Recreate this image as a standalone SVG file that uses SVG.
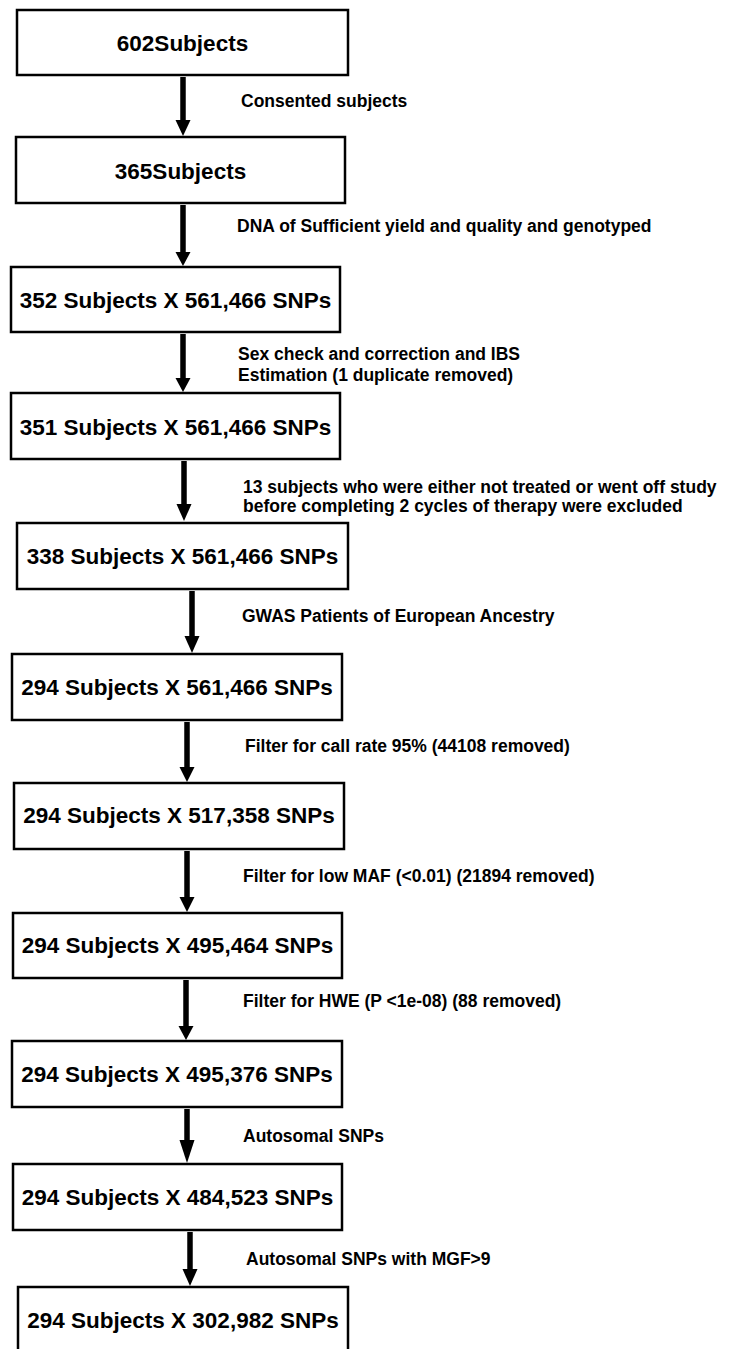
<svg xmlns="http://www.w3.org/2000/svg" width="742" height="1349" viewBox="0 0 742 1349">
<style>
.box{fill:#fff;stroke:#000;stroke-width:2.5}
.nt{font-family:"Liberation Sans",Arial,sans-serif;font-weight:bold;font-size:22.5px;fill:#000;text-anchor:middle}
.lb{font-family:"Liberation Sans",Arial,sans-serif;font-weight:bold;font-size:17.5px;fill:#000}
.sh{stroke:#000;stroke-width:5.5;fill:none}
.hd{fill:#000}
</style>
<rect width="742" height="1349" fill="#fff"/>
<g id="n1"><rect class="box" x="17" y="10" width="331" height="65"/><text class="nt" x="182.5" y="51">602Subjects</text></g>
<g id="n2"><rect class="box" x="16" y="137" width="329" height="66"/><text class="nt" x="180.5" y="179">365Subjects</text></g>
<g id="n3"><rect class="box" x="11" y="267" width="329" height="65"/><text class="nt" x="175.5" y="308">352 Subjects X 561,466 SNPs</text></g>
<g id="n4"><rect class="box" x="11" y="393" width="329" height="66"/><text class="nt" x="175.5" y="435">351 Subjects X 561,466 SNPs</text></g>
<g id="n5"><rect class="box" x="17" y="523" width="331" height="66"/><text class="nt" x="182.5" y="564">338 Subjects X 561,466 SNPs</text></g>
<g id="n6"><rect class="box" x="12" y="654" width="330" height="66"/><text class="nt" x="177" y="695">294 Subjects X 561,466 SNPs</text></g>
<g id="n7"><rect class="box" x="14" y="783" width="330" height="66"/><text class="nt" x="179" y="823">294 Subjects X 517,358 SNPs</text></g>
<g id="n8"><rect class="box" x="13" y="913" width="329" height="65"/><text class="nt" x="177.5" y="953">294 Subjects X 495,464 SNPs</text></g>
<g id="n9"><rect class="box" x="12" y="1041" width="330" height="66"/><text class="nt" x="177" y="1082">294 Subjects X 495,376 SNPs</text></g>
<g id="n10"><rect class="box" x="13" y="1164" width="329" height="66"/><text class="nt" x="177.5" y="1205">294 Subjects X 484,523 SNPs</text></g>
<g id="n11"><rect class="box" x="18" y="1287" width="330" height="70"/><text class="nt" x="183" y="1328">294 Subjects X 302,982 SNPs</text></g>
<g id="connectors">
<line class="sh" x1="183" y1="77" x2="183" y2="122"/><polygon class="hd" points="175.5,120 190.5,120 183,136"/>
<line class="sh" x1="183" y1="205" x2="183" y2="255"/><polygon class="hd" points="175.5,252 190.5,252 183,266"/>
<line class="sh" x1="183" y1="334" x2="183" y2="381"/><polygon class="hd" points="175.5,378 190.5,378 183,392"/>
<line class="sh" x1="184" y1="461" x2="184" y2="507"/><polygon class="hd" points="176.5,504 191.5,504 184,521"/>
<line class="sh" x1="192" y1="591" x2="192" y2="639"/><polygon class="hd" points="184.5,636 199.5,636 192,653"/>
<line class="sh" x1="187" y1="722" x2="187" y2="770"/><polygon class="hd" points="179.5,767 194.5,767 187,782"/>
<line class="sh" x1="187" y1="851" x2="187" y2="900"/><polygon class="hd" points="179.5,897 194.5,897 187,912"/>
<line class="sh" x1="186" y1="980" x2="186" y2="1029"/><polygon class="hd" points="178.5,1026 193.5,1026 186,1040"/>
<line class="sh" x1="187" y1="1109" x2="187" y2="1142"/><polygon class="hd" points="179.5,1140 194.5,1140 187,1163"/>
<line class="sh" x1="190" y1="1232" x2="190" y2="1272"/><polygon class="hd" points="182.5,1269 197.5,1269 190,1286"/>
</g>
<g id="labels">
<text class="lb" x="241" y="107">Consented subjects</text>
<text class="lb" x="237" y="232">DNA of Sufficient yield and quality and genotyped</text>
<text class="lb" x="238" y="360">Sex check and correction and IBS</text>
<text class="lb" x="238" y="381">Estimation (1 duplicate removed)</text>
<text class="lb" x="243" y="493">13 subjects who were either not treated or went off study</text>
<text class="lb" x="243" y="512">before completing 2 cycles of therapy were excluded</text>
<text class="lb" x="242" y="622">GWAS Patients of European Ancestry</text>
<text class="lb" x="245" y="752">Filter for call rate 95% (44108 removed)</text>
<text class="lb" x="243" y="882">Filter for low MAF (&lt;0.01) (21894 removed)</text>
<text class="lb" x="243" y="1007">Filter for HWE (P &lt;1e-08) (88 removed)</text>
<text class="lb" x="243" y="1142">Autosomal SNPs</text>
<text class="lb" x="246" y="1265">Autosomal SNPs with MGF&gt;9</text>
</g>
</svg>
